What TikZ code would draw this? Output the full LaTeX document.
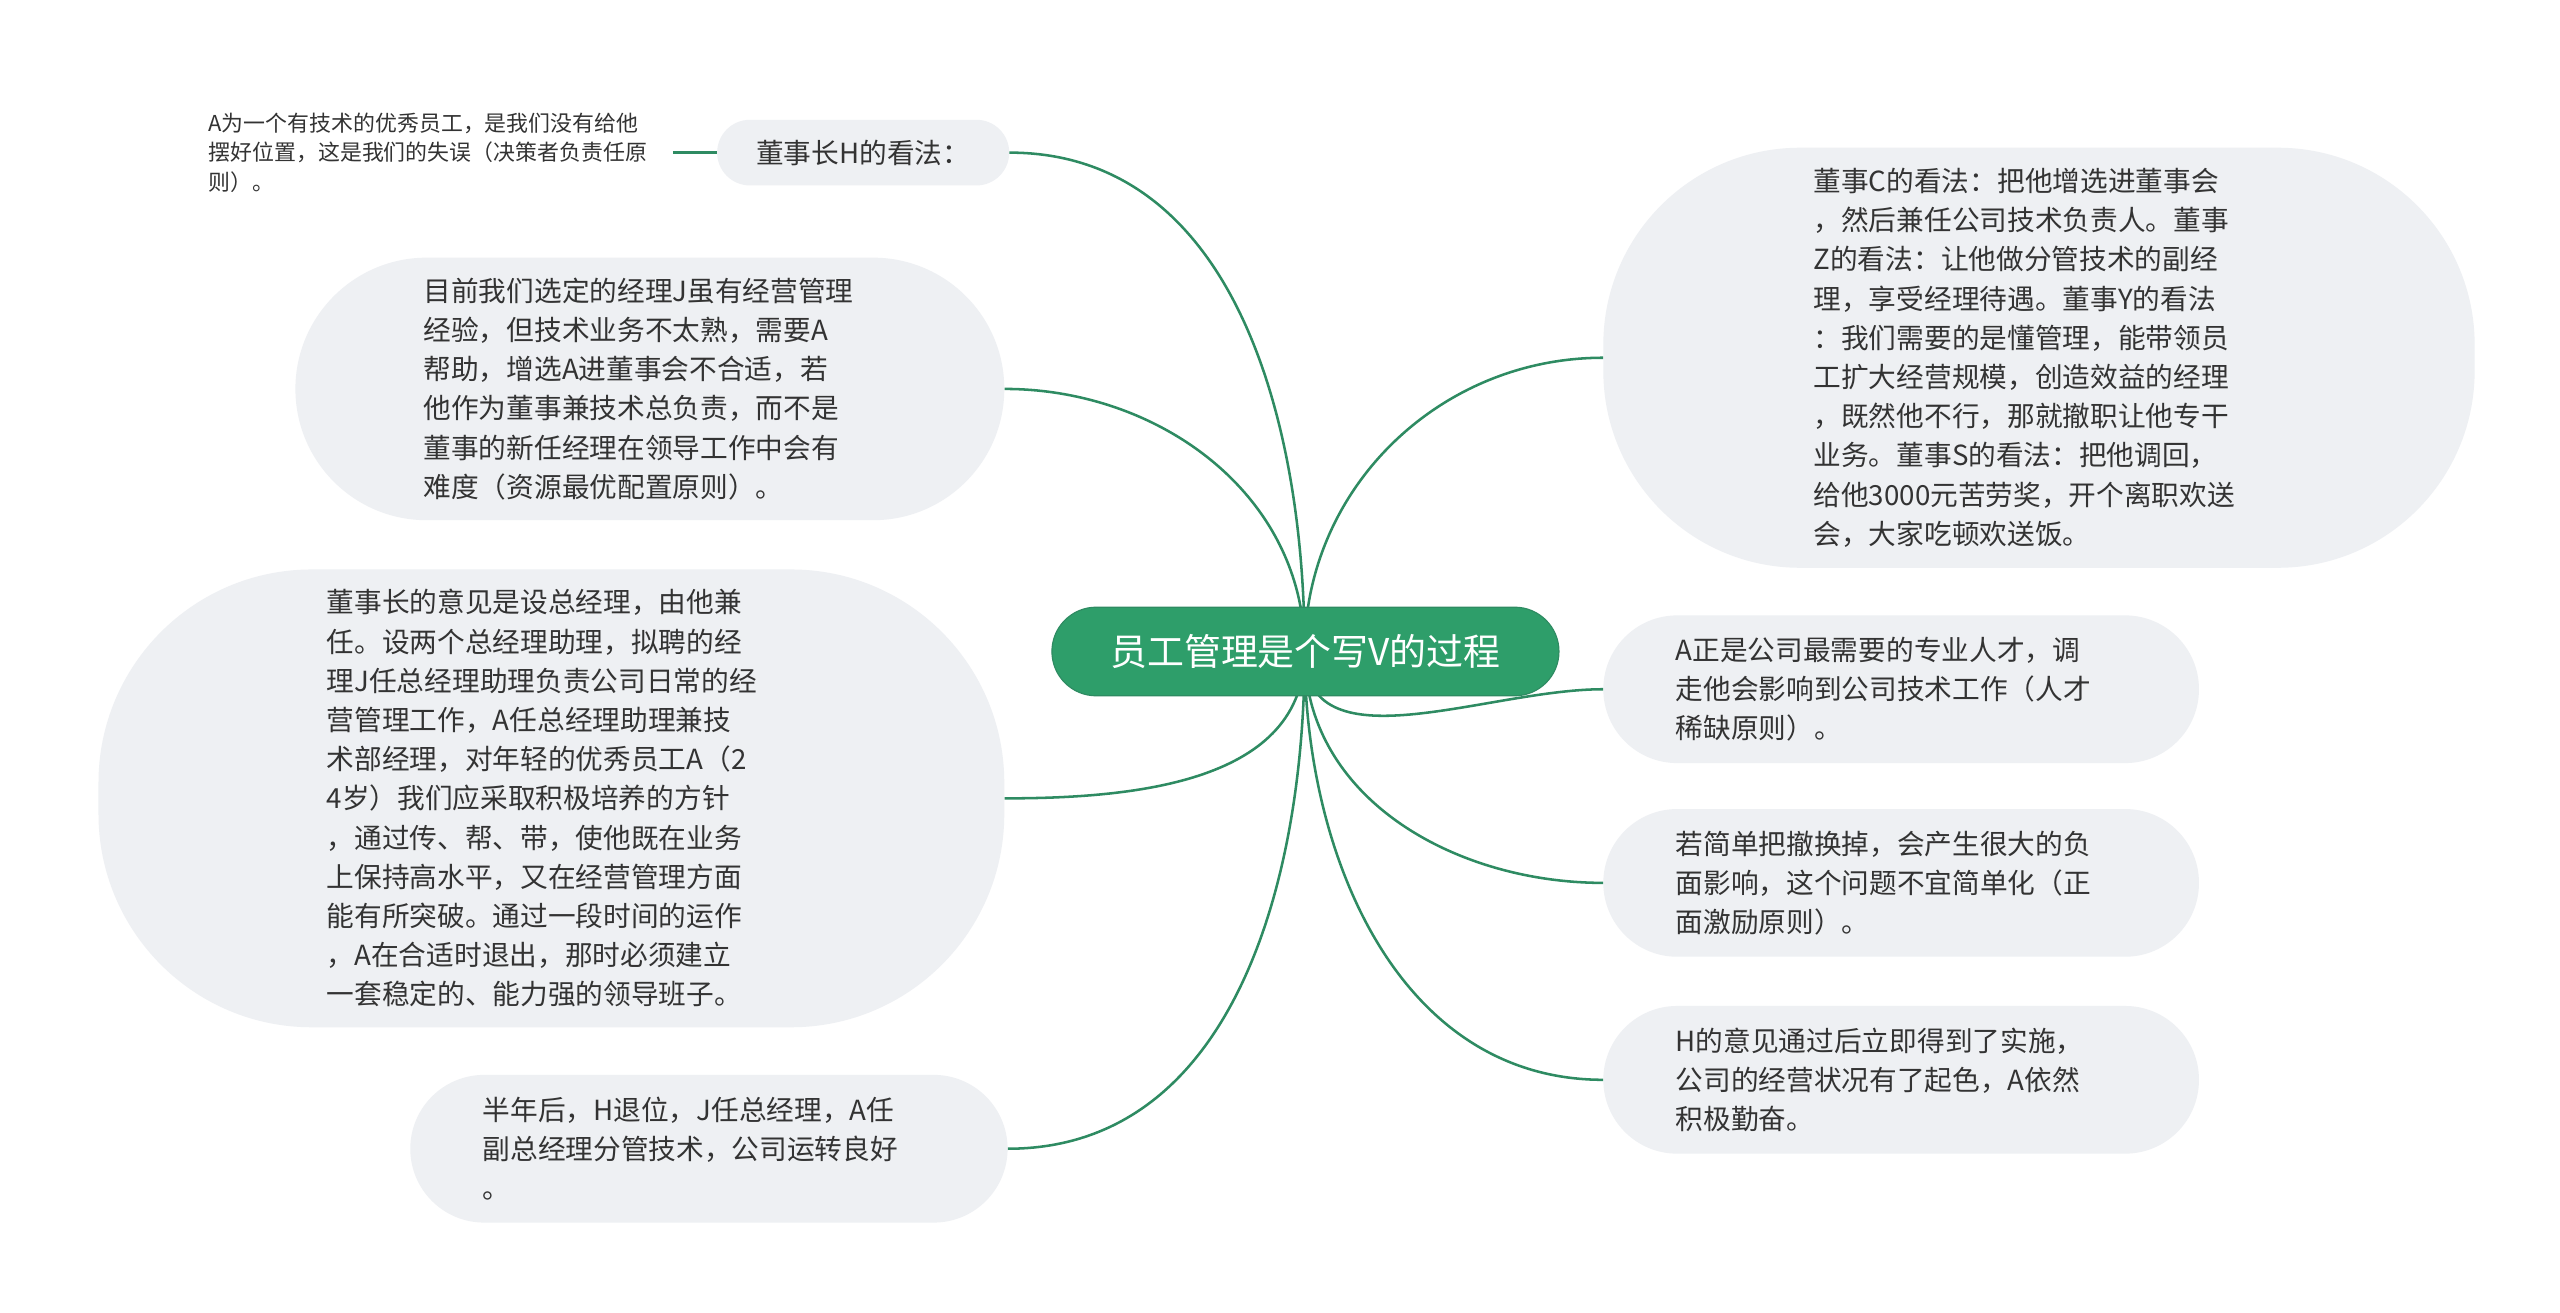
\documentclass[tikz,border=0pt]{standalone}
\usepackage{fontspec}
\setmainfont{Noto Sans CJK SC}
\definecolor{gr}{HTML}{2E9E6A}
\definecolor{ln}{HTML}{2E8B62}
\definecolor{bx}{HTML}{EEF0F3}
\definecolor{tx}{HTML}{333333}
\begin{document}
\begin{tikzpicture}[x=0.05cm,y=-0.05cm,
 box/.style={fill=bx,draw=none,inner sep=0},
 txt/.style={anchor=west,inner sep=0,align=left,text=tx,font=\fontsize{24pt}{34pt}\selectfont},
 conn/.style={draw=ln,line width=2.2pt}]
\fill[white] (0,0) rectangle (1560,800);
\node[box,minimum width=8.9cm,minimum height=2cm,rounded corners=1cm] (H) at (526,93) {};
\node[box,minimum width=21.6cm,minimum height=8cm,rounded corners=4cm] (b2) at (396,237) {};
\node[box,minimum width=27.6cm,minimum height=13.95cm,rounded corners=6.5cm] (b3) at (336,486.5) {};
\node[box,minimum width=18.2cm,minimum height=4.5cm,rounded corners=2.25cm] (b4) at (432,700) {};
\node[box,minimum width=26.55cm,minimum height=12.8cm,rounded corners=6cm] (r1) at (1242.5,218) {};
\node[box,minimum width=18.15cm,minimum height=4.5cm,rounded corners=2.25cm] (r2) at (1158.5,420) {};
\node[box,minimum width=18.15cm,minimum height=4.5cm,rounded corners=2.25cm] (r3) at (1158.5,538) {};
\node[box,minimum width=18.15cm,minimum height=4.5cm,rounded corners=2.25cm] (r4) at (1158.5,658) {};
\coordinate (c) at (795,397);
\draw[conn] (c) to[out=90,in=0] (H.east);
\draw[conn] (c) to[out=90,in=0] (b2.east);
\draw[conn] (c) to[out=-90,in=0] (b3.east);
\draw[conn] (c) to[out=-90,in=0] (b4.east);
\draw[conn] (c) to[out=90,in=180] (r1.west);
\draw[conn] (c) to[out=-90,in=180] (r2.west);
\draw[conn] (c) to[out=-90,in=180] (r3.west);
\draw[conn] (c) to[out=-90,in=180] (r4.west);
\node[fill=gr,draw=ln,line width=1pt,minimum width=15.45cm,minimum height=2.7cm,rounded corners=1.35cm,text=white,font=\fontsize{32pt}{38pt}\selectfont] (ctr) at (795.5,397) {员工管理是个写V的过程};
\node[txt,anchor=center] (Ht) at (H) {董事长H的看法：};
\node[txt,font=\fontsize{19pt}{25.5pt}\selectfont] (leaf) at (127,93) {A为一个有技术的优秀员工，是我们没有给他\\摆好位置，这是我们的失误（决策者负责任原\\则）。};
\draw[conn] (410,93) -- (H.west);
\node[txt] (t2) at (258,237) {目前我们选定的经理J虽有经营管理\\经验，但技术业务不太熟，需要A\\帮助，增选A进董事会不合适，若\\他作为董事兼技术总负责，而不是\\董事的新任经理在领导工作中会有\\难度（资源最优配置原则）。};
\node[txt] (t3) at (199,486.5) {董事长的意见是设总经理，由他兼\\任。设两个总经理助理，拟聘的经\\理J任总经理助理负责公司日常的经\\营管理工作，A任总经理助理兼技\\术部经理，对年轻的优秀员工A（2\\4岁）我们应采取积极培养的方针\\，通过传、帮、带，使他既在业务\\上保持高水平，又在经营管理方面\\能有所突破。通过一段时间的运作\\，A在合适时退出，那时必须建立\\一套稳定的、能力强的领导班子。};
\node[txt] (t4) at (294,700) {半年后，H退位，J任总经理，A任\\副总经理分管技术，公司运转良好\\。};
\node[txt] (s1) at (1105,218) {董事C的看法：把他增选进董事会\\，然后兼任公司技术负责人。董事\\Z的看法：让他做分管技术的副经\\理，享受经理待遇。董事Y的看法\\：我们需要的是懂管理，能带领员\\工扩大经营规模，创造效益的经理\\，既然他不行，那就撤职让他专干\\业务。董事S的看法：把他调回，\\给他3000元苦劳奖，开个离职欢送\\会，大家吃顿欢送饭。};
\node[txt] (s2) at (1021,420) {A正是公司最需要的专业人才，调\\走他会影响到公司技术工作（人才\\稀缺原则）。};
\node[txt] (s3) at (1021,538) {若简单把撤换掉，会产生很大的负\\面影响，这个问题不宜简单化（正\\面激励原则）。};
\node[txt] (s4) at (1021,658) {H的意见通过后立即得到了实施，\\公司的经营状况有了起色，A依然\\积极勤奋。};
\end{tikzpicture}
\end{document}
